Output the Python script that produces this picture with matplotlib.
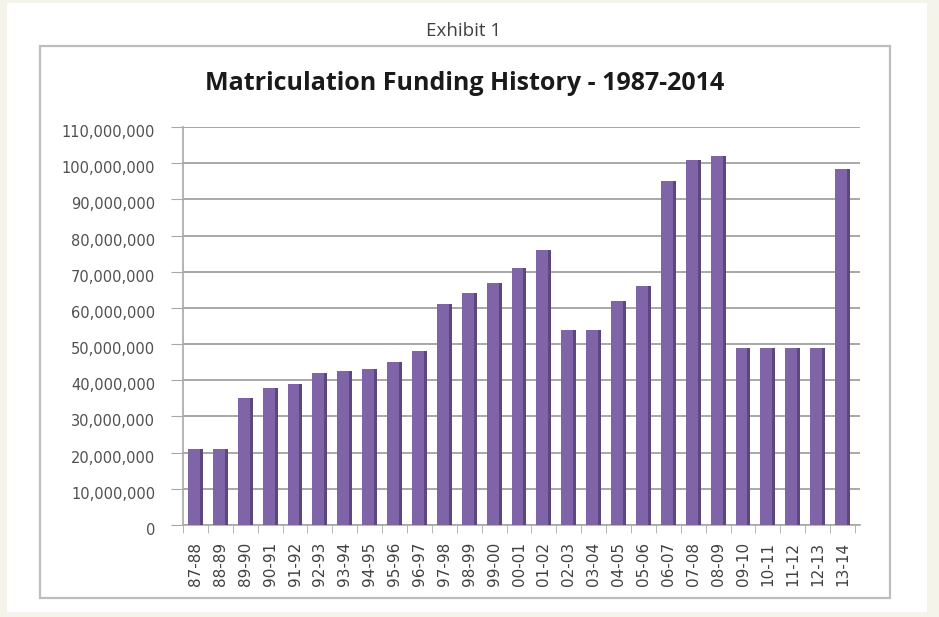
import matplotlib
matplotlib.use("Agg")
import matplotlib.pyplot as plt
import matplotlib.transforms as mtransforms
from matplotlib.patches import Rectangle
import numpy as np

categories = ["87-88", "88-89", "89-90", "90-91", "91-92", "92-93", "93-94", "94-95",
              "95-96", "96-97", "97-98", "98-99", "99-00", "00-01", "01-02", "02-03",
              "03-04", "04-05", "05-06", "06-07", "07-08", "08-09", "09-10", "10-11",
              "11-12", "12-13", "13-14"]
funding = [21000000, 21000000, 35000000, 38000000, 39000000, 42000000, 42500000, 43000000,
           45000000, 48000000, 61000000, 64000000, 67000000, 71000000, 76000000, 54000000,
           54000000, 62000000, 66000000, 95000000, 101000000, 102000000, 49000000, 49000000,
           49000000, 49000000, 98500000]
y_ticks = list(range(0, 110000001, 10000000))
title = "Matriculation Funding History - 1987-2014"
exhibit = "Exhibit 1"

W, H = 939, 617
fig = plt.figure(figsize=(W / 100, H / 100), dpi=100)
fig.patch.set_facecolor("#f4f4ea")

# white page area
fig.patches.append(Rectangle((7 / W, 1 - 612 / H), (927 - 7) / W, (612 - 3) / H,
                             transform=fig.transFigure, facecolor="white",
                             edgecolor="none", zorder=0))
# chart box
fig.patches.append(Rectangle((40 / W, 1 - 598 / H), (890 - 40) / W, (598 - 46) / H,
                             transform=fig.transFigure, facecolor="white",
                             edgecolor="#bdbdbd", linewidth=1.6, zorder=1))

fig.text(464 / W, 1 - 31 / H, exhibit, ha="center", va="center",
         fontsize=13.5, color="#404040", family="Open Sans")
fig.text(465 / W, 1 - 84 / H, title, ha="center", va="center",
         fontsize=18, fontweight="bold", color="#1a1a1a", family="Open Sans")

left, right, top, bottom = 183, 860, 127, 525
ax = fig.add_axes([left / W, 1 - bottom / H, (right - left) / W, (bottom - top) / H])
ax.set_facecolor("none")
ax.set_zorder(2)

x = np.arange(len(categories))
bw = 0.6
ax.bar(x, funding, width=bw, color="#8064a8", edgecolor="none", zorder=3)
# darker side face for 3D look
ax.bar(x + bw / 2 - 0.06, funding, width=0.12, color="#5d477f", edgecolor="none", zorder=4)

ax.set_ylim(0, 110000000)
ax.set_xlim(-0.33, 26.7)
ax.set_yticks(y_ticks)
ax.set_yticklabels([f"{v:,}" for v in y_ticks])
ax.yaxis.grid(True, color="#a8a8a8", linewidth=1.4, zorder=1)
ax.set_axisbelow(True)

ax.set_xticks(x)
ax.set_xticklabels(categories, rotation=90, va="top", ha="center")
ax.set_xticks(np.arange(len(categories) + 1) - 0.5, minor=True)

for s in ["top", "right"]:
    ax.spines[s].set_visible(False)
ax.spines["left"].set_color("#a8a8a8")
ax.spines["bottom"].set_color("#a8a8a8")
ax.spines["left"].set_linewidth(1.2)
ax.spines["bottom"].set_linewidth(1.2)

ax.tick_params(axis="y", length=9, color="#a8a8a8", labelsize=10.5, labelcolor="#505050", pad=11)
ax.tick_params(axis="x", which="major", length=0, labelsize=11, labelcolor="#404040", pad=12)
ax.tick_params(axis="x", which="minor", length=6, color="#a8a8a8")
shift = mtransforms.ScaledTranslation(0, -4 / 100, fig.dpi_scale_trans)
for lab in ax.get_yticklabels():
    lab.set_family("DejaVu Sans")
    lab.set_transform(lab.get_transform() + shift)
for lab in ax.get_xticklabels():
    lab.set_family("DejaVu Sans")

fig.savefig("out.png", dpi=100, facecolor=fig.get_facecolor())
